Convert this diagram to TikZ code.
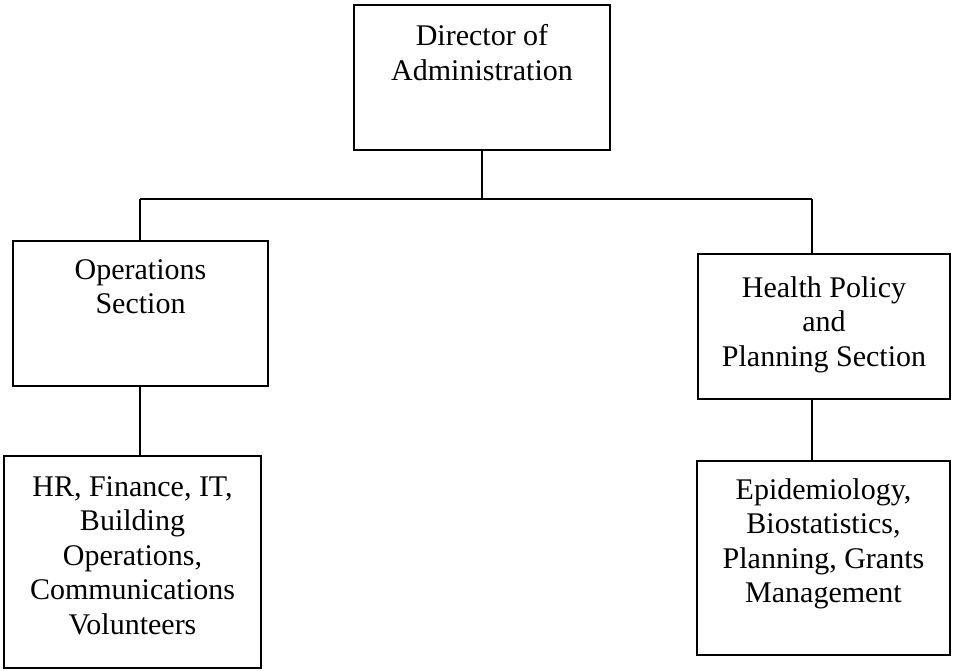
\documentclass[tikz,border=0pt]{standalone}
\usepackage{fontspec}
\setmainfont{Liberation Serif}
\usetikzlibrary{calc}
\begin{document}
\begin{tikzpicture}[x=0.4pt,y=-0.4pt,
  orgbox/.style={draw=black, line width=0.8pt, rectangle, inner sep=0pt},
  boxtext/.style={anchor=north, align=center, inner sep=0pt,
    font=\fontsize{12}{13.8}\selectfont},
  link/.style={draw=black, line width=0.8pt}]
\useasboundingbox (0,0) rectangle (953,671);

% boxes
\node[orgbox, minimum width=102.4pt, minimum height=58pt] (dir) at (482,77.5) {};
\node[orgbox, minimum width=102pt, minimum height=58pt] (ops) at (140.5,313.5) {};
\node[orgbox, minimum width=100.8pt, minimum height=58pt] (hp) at (824,326.5) {};
\node[orgbox, minimum width=102.8pt, minimum height=84.8pt] (hr) at (132.5,562) {};
\node[orgbox, minimum width=101.2pt, minimum height=77.6pt] (epi) at (823.5,558) {};

% box texts
\node[boxtext] (dirt) at ($(dir.north)+(0,20)$) {Director of\\Administration};
\node[boxtext] (opst) at ($(ops.north)+(0,19)$) {Operations\\Section};
\node[boxtext] (hpt) at ($(hp.north)+(0,23)$) {Health Policy\\and\\Planning Section};
\node[boxtext] (hrt) at ($(hr.north)+(0,21)$) {HR, Finance, IT,\\Building\\Operations,\\Communications\\Volunteers};
\node[boxtext] (epit) at ($(epi.north)+(0,18)$) {Epidemiology,\\Biostatistics,\\Planning, Grants\\Management};

% connectors
\coordinate (busL) at (140,199);
\coordinate (busR) at (812,199);
\draw[link] (busL) -- (busR);
\draw[link] (dir.south) -- (dir.south |- busL);
\draw[link] (busL) -- (busL |- ops.north);
\draw[link] (busR) -- (busR |- hp.north);
\draw[link] (busL |- ops.south) -- (busL |- hr.north);
\draw[link] (busR |- hp.south) -- (busR |- epi.north);
\end{tikzpicture}
\end{document}
